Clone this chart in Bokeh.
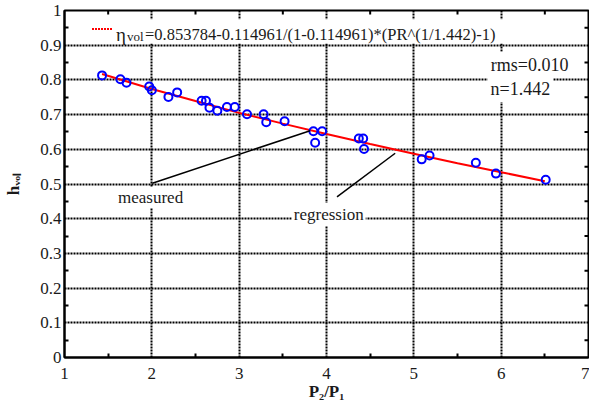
from bokeh.plotting import figure
from bokeh.models import Range1d, FixedTicker, Label, BoxAnnotation
from bokeh.embed import file_html
from bokeh.resources import INLINE

# ---------------- data ----------------
pr_measured = [1.43, 1.64, 1.71, 1.97, 2.00, 2.19, 2.29, 2.57, 2.62, 2.66, 2.75, 2.86,
               2.95, 3.09, 3.28, 3.31, 3.52, 3.85, 3.87, 3.95, 4.37, 4.42, 4.43, 5.09,
               5.18, 5.71, 5.94, 6.51]
eta_measured = [0.813, 0.802, 0.792, 0.781, 0.770, 0.751, 0.764, 0.740, 0.740, 0.720, 0.711, 0.722,
                0.722, 0.701, 0.701, 0.678, 0.681, 0.652, 0.619, 0.652, 0.631, 0.631, 0.601, 0.571,
                0.582, 0.561, 0.530, 0.512]

pr_fit = [1.43, 2.0, 2.5, 3.0, 3.5, 4.0, 4.5, 5.0, 5.5, 6.0, 6.5]
eta_fit = [0.817, 0.774, 0.739, 0.705, 0.674, 0.644, 0.615, 0.587, 0.560, 0.534, 0.508]

x_ticks = [1, 2, 3, 4, 5, 6, 7]
x_tick_labels = ["1", "2", "3", "4", "5", "6", "7"]
x_minor = [1.5, 2.5, 3.5, 4.5, 5.5, 6.5]
y_ticks = [0, 0.1, 0.2, 0.3, 0.4, 0.5, 0.6, 0.7, 0.8, 0.9, 1]
y_tick_labels = ["0", "0.1", "0.2", "0.3", "0.4", "0.5", "0.6", "0.7", "0.8", "0.9", "1"]
y_minor = [0.05, 0.15, 0.25, 0.35, 0.45, 0.55, 0.65, 0.75, 0.85, 0.95]

x_title = "P\u2082/P\u2081"
y_title = "h\u1d65\u2092\u2097"
legend_text = "=0.853784-0.114961/(1-0.114961)*(PR^(1/1.442)-1)"
rms_text = "rms=0.010"
n_text = "n=1.442"

# ---------------- layout helpers ----------------
W, H = 589, 403
FL, FR, FT, FB = 64.0, 588.0, 10.0, 355.0
SX = 6.0 / (FR - FL)
SY = 1.0 / (FB - FT)
RL, RR, RT, RB = 69.0, 603.0, 10.0, 368.0
def rx(X):
    return 1 + (X - RL) * 6.0 / (RR - RL)
def ry(Y):
    return (RB - Y) / (RB - RT)

FONT = "Liberation Serif"
TXT = "#1a1a1a"

p = figure(width=W, height=H, x_range=Range1d(1, 7), y_range=Range1d(0, 1),
           output_backend="svg", toolbar_location=None, title_location=None,
           min_border_left=int(FL), min_border_right=int(W - FR),
           min_border_top=int(FT), min_border_bottom=40)
p.background_fill_color = "white"
p.border_fill_color = "white"
p.outline_line_color = "black"
p.outline_line_width = 2

xt = FixedTicker(ticks=x_ticks, minor_ticks=x_minor)
yt = FixedTicker(ticks=y_ticks, minor_ticks=y_minor)

def style_axis(ax, ticker, labels, ticks, title):
    ax.ticker = ticker
    ax.axis_line_color = "black"
    ax.axis_line_width = 2
    ax.major_tick_in = 0
    ax.major_tick_out = 0
    ax.minor_tick_in = 4
    ax.minor_tick_out = 0
    ax.minor_tick_line_width = 2
    ax.minor_tick_line_color = "black"
    ax.major_label_text_font = FONT
    ax.major_label_text_font_size = "17px"
    ax.major_label_text_color = TXT
    ax.major_label_overrides = {t: l for t, l in zip(ticks, labels)}
    ax.axis_label = title
    ax.axis_label_text_font = FONT
    ax.axis_label_text_font_size = "17px"
    ax.axis_label_text_font_style = "bold"
    ax.axis_label_text_color = TXT

xa = p.xaxis[0]
style_axis(xa, xt, x_tick_labels, x_ticks, x_title)
xa.major_label_standoff = 10
xa.axis_label_standoff = 0
ya = p.yaxis[0]
style_axis(ya, yt, y_tick_labels, y_ticks, y_title)
ya.major_label_standoff = 3
ya.axis_label_standoff = 14
if "axis_label_orientation" in ya.properties():
    ya.axis_label_orientation = "parallel"

for g in (p.xgrid[0], p.ygrid[0]):
    g.grid_line_color = "black"
    g.grid_line_width = 2
    g.grid_line_dash = "2 1"
p.xgrid[0].ticker = xt
p.ygrid[0].ticker = yt

# minor ticks on the top and right edges of the frame
p.segment(x0=x_minor, x1=x_minor, y0=[1] * len(x_minor), y1=[1 - 4 * SY] * len(x_minor),
          line_color="black", line_width=2)
p.segment(x0=[7] * len(y_minor), x1=[7 - 4 * SX] * len(y_minor), y0=y_minor, y1=y_minor,
          line_color="black", line_width=2)

# legend box (white, hides grid)
p.add_layout(BoxAnnotation(left=rx(74), right=rx(600), top=ry(19), bottom=ry(44),
                           fill_color="white", fill_alpha=1, line_color=None, level="underlay"))

# data
p.line(pr_fit, eta_fit, line_color="#ff0000", line_width=2)
p.scatter(pr_measured, eta_measured, marker="circle", size=8, fill_color=None,
          line_color="#0000ff", line_width=2)

# leader lines
p.segment(x0=[rx(158.5), rx(346.7)], y0=[ry(188.3), ry(202.3)],
          x1=[rx(319.3), rx(406)], y1=[ry(134), ry(157.3)],
          line_color="black", line_width=1.5)

# legend sample
p.segment(x0=[rx(97)], y0=[ry(29)], x1=[rx(118)], y1=[ry(29)],
          line_color="#ff0000", line_width=2, line_dash="2 1")

def lab(text, x, y, size, align="left", baseline="alphabetic", bg=None, pad=0):
    kw = {}
    if bg is not None:
        kw = dict(background_fill_color=bg, padding=pad)
    L = Label(x=x, y=y, text=text, text_font=FONT, text_font_size=size,
              text_color=TXT, text_align=align, text_baseline=baseline, **kw)
    p.add_layout(L)

lx = rx(121.5)
lb = ry(35)
lab("\u03b7", lx, lb, "19px")
lab("vol", lx + 11 * SX, lb - 1.5 * SY, "13px")
lab(legend_text, lx + 29 * SX, lb, "16.5px")

lab("measured", rx(156.7), ry(203), "17px", align="center", baseline="middle", bg="white", pad=1)
lab("regression", rx(338.3), ry(220.5), "17px", align="center", baseline="middle", bg="white", pad=2)
lab(rms_text, rx(543), ry(66), "18px", align="center", baseline="middle", bg="white", pad=3)
lab(n_text, rx(533.5), ry(91), "18px", align="center", baseline="middle", bg="white", pad=3)

open("out.html", "w").write(file_html(p, INLINE))
